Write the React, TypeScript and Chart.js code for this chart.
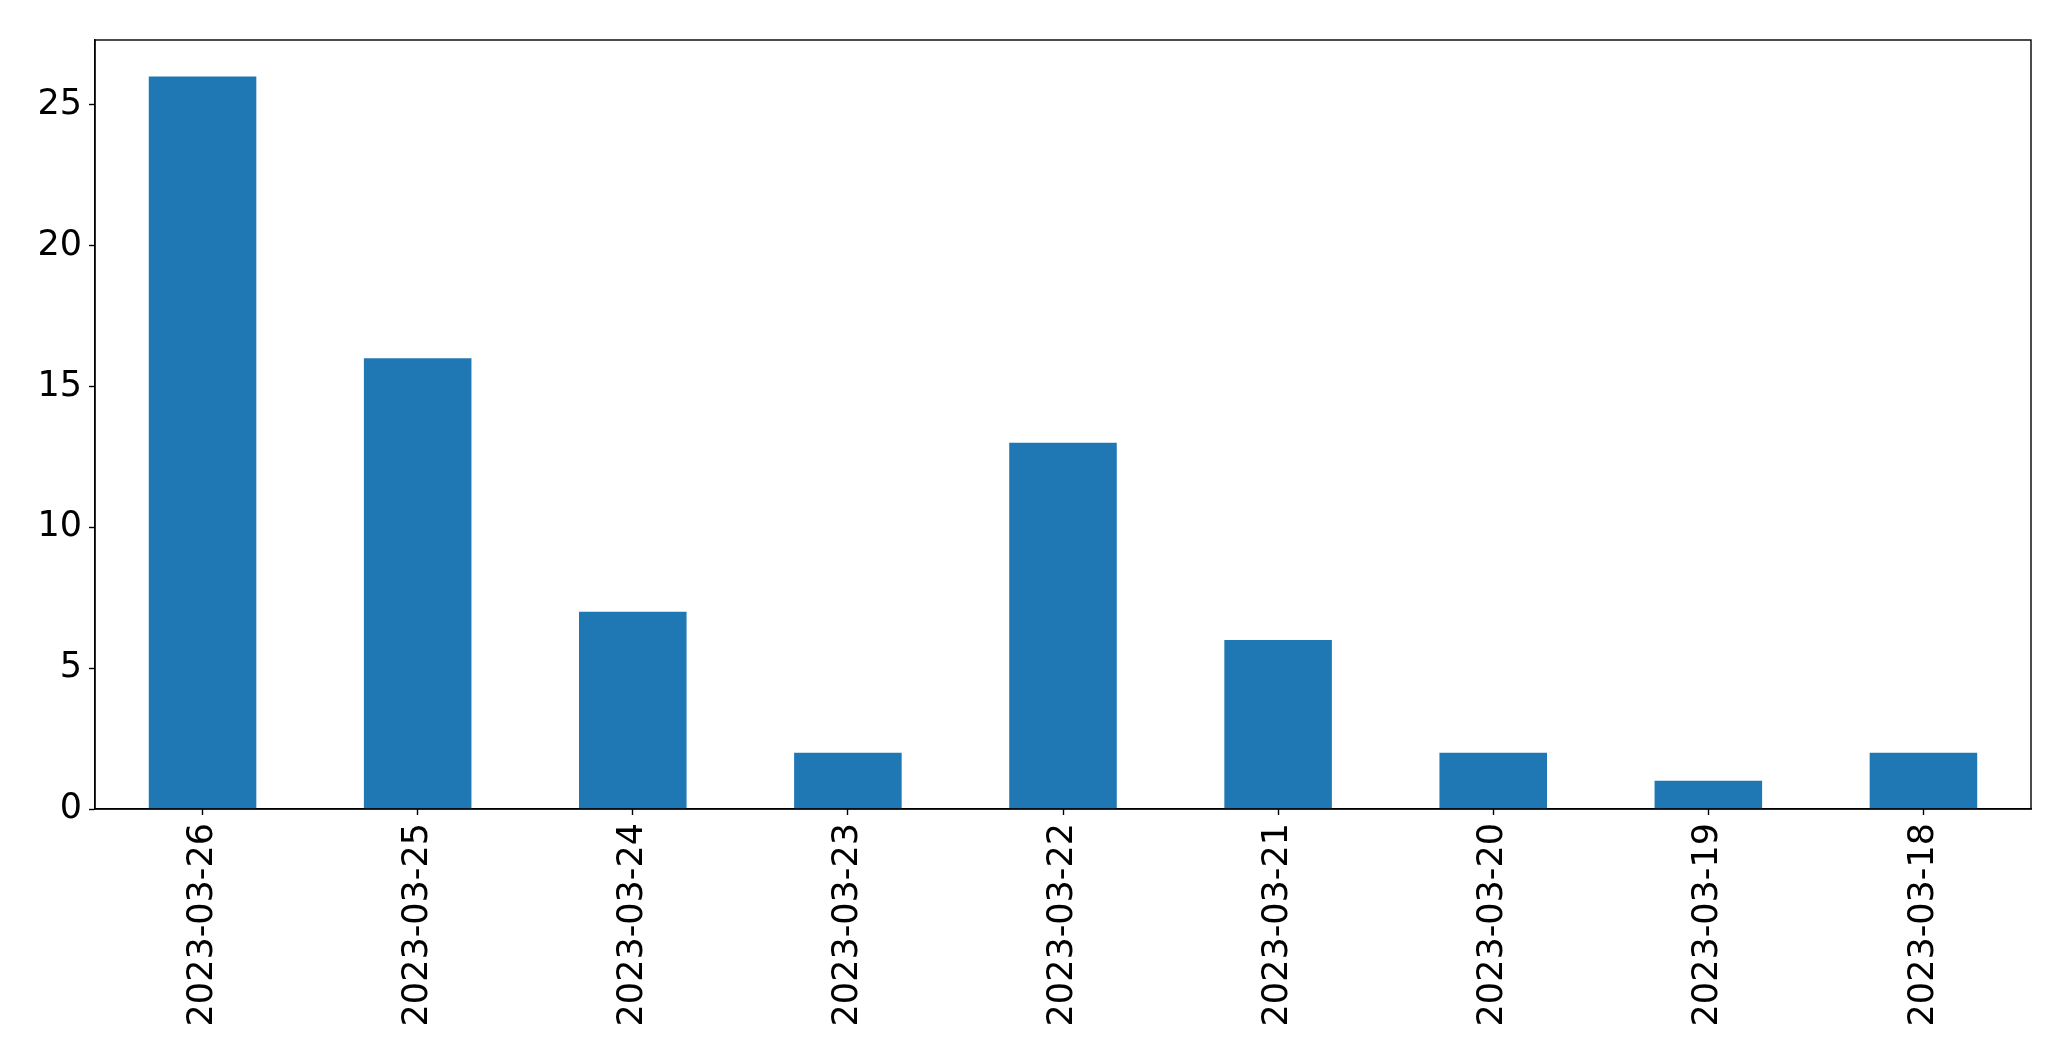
import React, { useEffect, useRef } from "react";
import { Chart, registerables } from "chart.js";

Chart.register(...registerables);

const categories = [
  "2023-03-26",
  "2023-03-25",
  "2023-03-24",
  "2023-03-23",
  "2023-03-22",
  "2023-03-21",
  "2023-03-20",
  "2023-03-19",
  "2023-03-18",
];
const counts = [26, 16, 7, 2, 13, 6, 2, 1, 2];
const yTicks = [0, 5, 10, 15, 20, 25];
const yMax = 27.3;

const W = 2071;
const H = 1061;

const framePlugin = {
  id: "frame",
  afterDatasetsDraw(chart: any) {
    const { ctx, chartArea } = chart;
    ctx.save();
    ctx.strokeStyle = "#000";
    ctx.lineWidth = 1.4;
    ctx.strokeRect(chartArea.left, chartArea.top, chartArea.right - chartArea.left, chartArea.bottom - chartArea.top);
    ctx.restore();
  },
};

export default function App() {
  const ref = useRef<HTMLCanvasElement | null>(null);
  useEffect(() => {
    if (!ref.current) return;
    const chart = new Chart(ref.current, {
      type: "bar",
      data: {
        labels: categories,
        datasets: [
          {
            data: counts,
            backgroundColor: "#1f77b4",
            borderWidth: 0,
            barPercentage: 0.5,
            categoryPercentage: 1.0,
          },
        ],
      },
      options: {
        animation: false,
        responsive: false,
        maintainAspectRatio: false,
        layout: { padding: { left: 0, top: 40, right: 40, bottom: 0 } },
        plugins: { legend: { display: false }, tooltip: { enabled: false } },
        scales: {
          x: {
            offset: true,
            grid: {
              display: true,
              drawOnChartArea: false,
              drawTicks: true,
              tickLength: 6,
              tickWidth: 1.4,
              tickColor: "#000",
              offset: false,
            },
            border: { display: true, color: "#000", width: 1.4 },
            ticks: {
              color: "#000",
              font: { family: "DejaVu Sans", size: 35 },
              maxRotation: 90,
              minRotation: 90,
              padding: 8,
              autoSkip: false,
            },
            afterFit(scale: any) {
              scale.height = H - 809;
            },
          },
          y: {
            min: 0,
            max: yMax,
            grid: {
              display: true,
              drawOnChartArea: false,
              drawTicks: true,
              tickLength: 6,
              tickWidth: 1.4,
              tickColor: "#000",
            },
            border: { display: true, color: "#000", width: 1.4 },
            ticks: {
              color: "#000",
              font: { family: "DejaVu Sans", size: 35 },
              padding: 7,
              includeBounds: false,
            },
            afterBuildTicks(scale: any) {
              scale.ticks = yTicks.map((v) => ({ value: v }));
            },
            afterFit(scale: any) {
              scale.width = 95;
            },
          },
        },
      },
      plugins: [framePlugin],
    });
    return () => chart.destroy();
  }, []);
  return (
    <div style={{ position: "fixed", left: 0, top: 0, width: W, height: H, background: "#fff" }}>
      <canvas ref={ref} width={W} height={H} style={{ width: W, height: H, display: "block" }} />
    </div>
  );
}
